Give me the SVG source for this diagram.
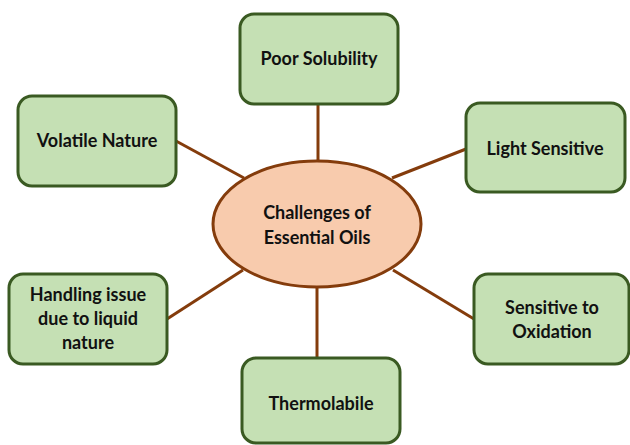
<svg xmlns="http://www.w3.org/2000/svg" width="630" height="445" viewBox="0 0 630 445">
<style>
.box{fill:#c5e0b4;stroke:#3a5a22;stroke-width:3}
.hub{fill:#f8cbad;stroke:#843c0c;stroke-width:3}
.ln{stroke:#843c0c;stroke-width:3;fill:none}
text{font-family:Lato,"Open Sans","Liberation Sans",sans-serif;font-weight:bold;font-size:18px;fill:#111;text-anchor:middle}
</style>
<rect width="630" height="445" fill="#fff"/>
<g id="connectors">
<line class="ln" x1="318" y1="104" x2="318" y2="161"/>
<line class="ln" x1="176" y1="141" x2="244" y2="178"/>
<line class="ln" x1="466" y1="149" x2="392" y2="178"/>
<line class="ln" x1="167" y1="319" x2="243" y2="270"/>
<line class="ln" x1="393" y1="270" x2="474" y2="319"/>
<line class="ln" x1="317" y1="286" x2="317" y2="358"/>
</g>
<g id="hub">
<ellipse class="hub" cx="317" cy="224" rx="104" ry="63"/>
<text x="317" y="219">Challenges of</text>
<text x="317" y="244">Essential Oils</text>
</g>
<g id="poor-solubility">
<rect class="box" x="240" y="14" width="158" height="90" rx="14"/>
<text x="319" y="65">Poor Solubility</text>
</g>
<g id="volatile-nature">
<rect class="box" x="18" y="96" width="158" height="90" rx="14"/>
<text x="97" y="147">Volatile Nature</text>
</g>
<g id="light-sensitive">
<rect class="box" x="466" y="103" width="159" height="89" rx="14"/>
<text x="545" y="155">Light Sensitive</text>
</g>
<g id="handling-issue">
<rect class="box" x="9" y="274" width="158" height="90" rx="14"/>
<text x="88" y="301">Handling issue</text>
<text x="88" y="325">due to liquid</text>
<text x="88" y="349">nature</text>
</g>
<g id="sensitive-oxidation">
<rect class="box" x="474" y="274" width="155" height="90" rx="14"/>
<text x="552" y="314">Sensitive to</text>
<text x="552" y="338">Oxidation</text>
</g>
<g id="thermolabile">
<rect class="box" x="242" y="358" width="158" height="85" rx="14"/>
<text x="321" y="410">Thermolabile</text>
</g>
</svg>
